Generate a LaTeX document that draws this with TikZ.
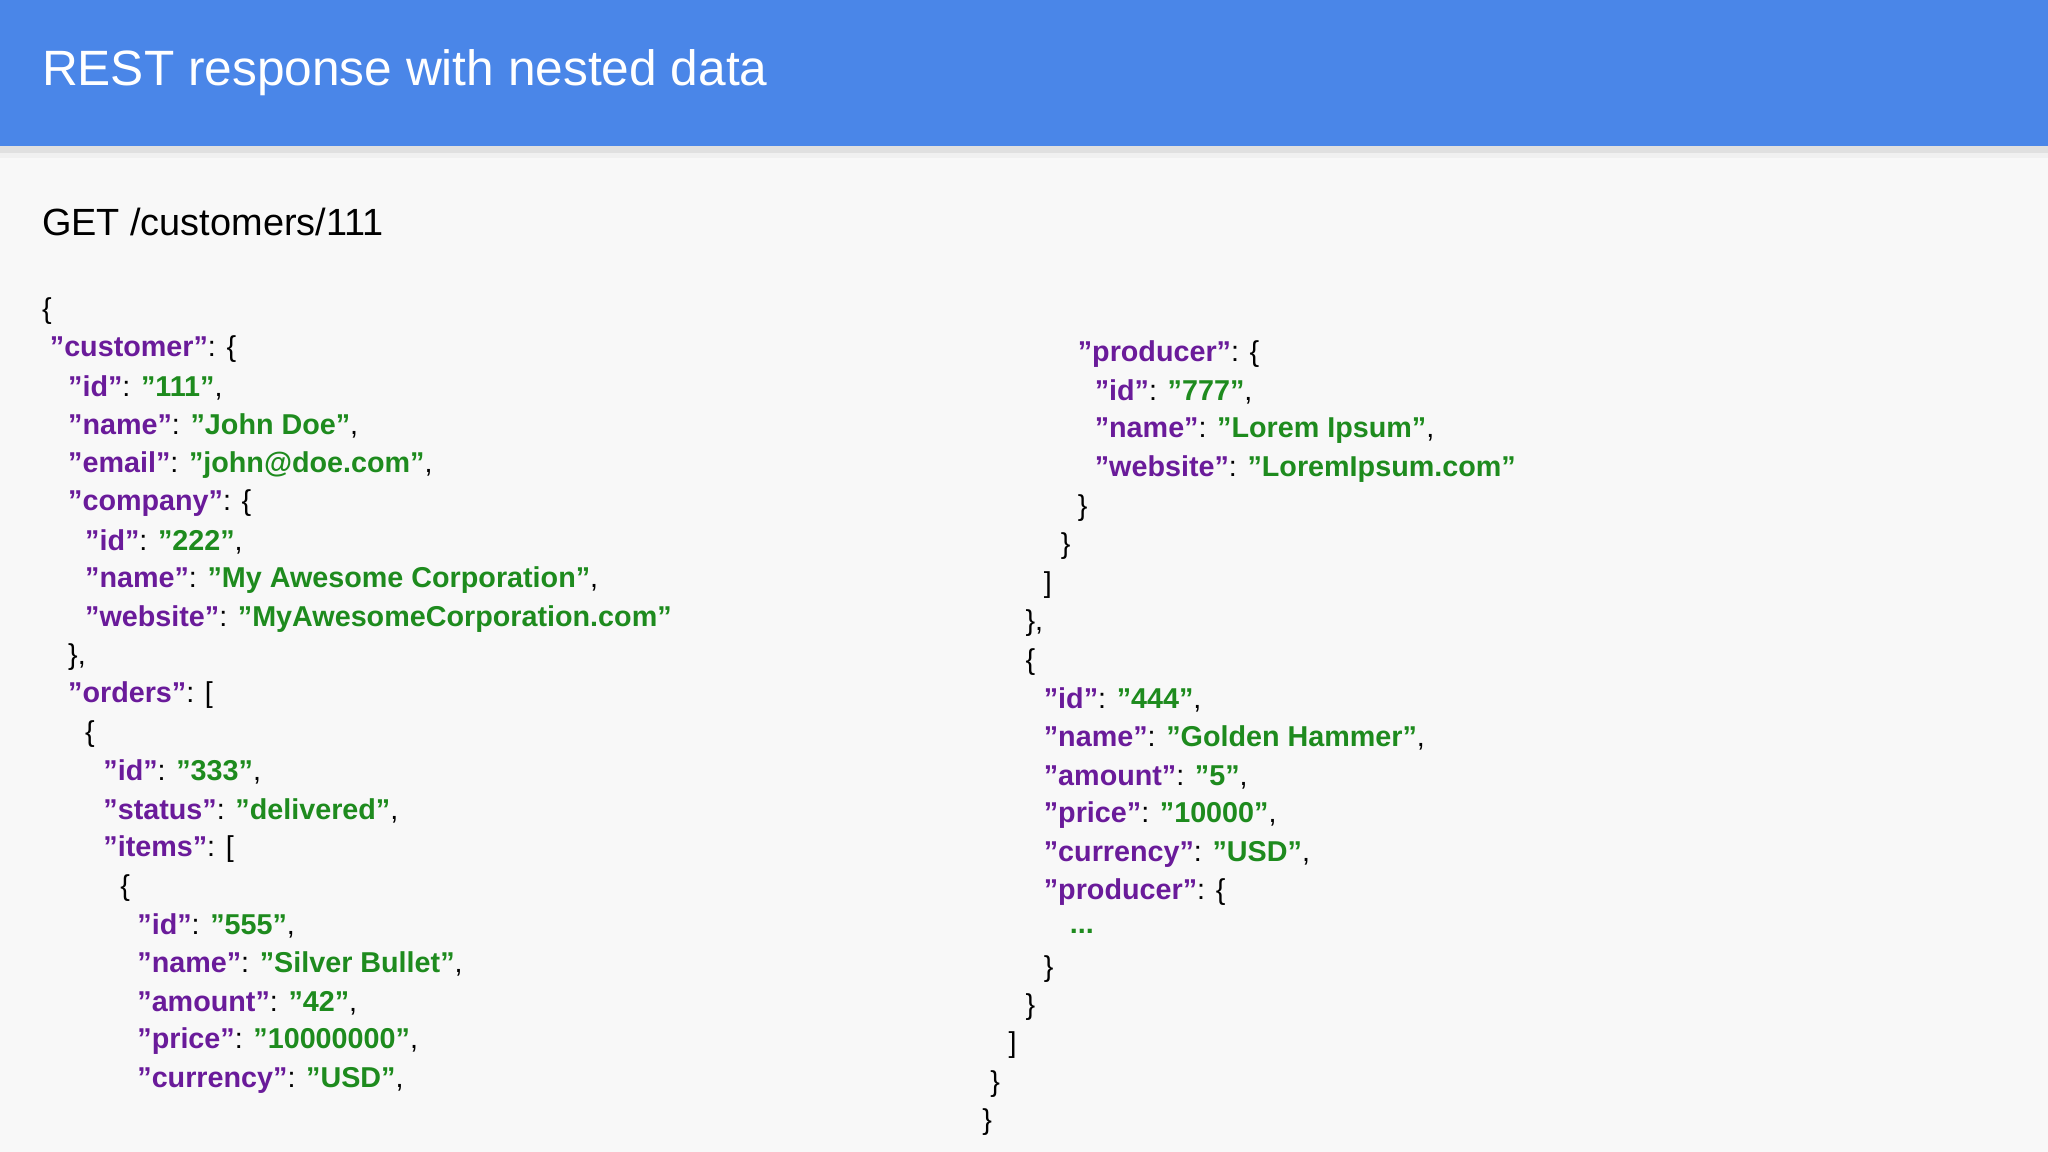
\documentclass[tikz,border=0pt]{standalone}
\usepackage{fontspec}
\setmainfont{Liberation Sans}
\definecolor{hdr}{HTML}{4A86E8}
\definecolor{bg}{HTML}{F8F8F8}
\definecolor{kcol}{HTML}{6A1B9A}
\definecolor{vcol}{HTML}{1E8B1E}
\newcommand{\jk}[1]{\textbf{\color{kcol}"#1"}}
\newcommand{\jv}[1]{\textbf{\color{vcol}"#1"}}
\tikzset{ln/.style={anchor=west,inner sep=0pt,font=\fontsize{22}{26}\selectfont}}
\begin{document}
\begin{tikzpicture}[x=1pt,y=-1pt]
\useasboundingbox (0,0) rectangle (1568,882);
\fill[bg] (0,0) rectangle (1568,882);
\fill[black!12] (0,112) rectangle (1568,117);
\fill[black!6] (0,117) rectangle (1568,121);
\fill[hdr] (0,0) rectangle (1568,112);
\node[anchor=west,inner sep=0pt,text=white,font=\fontsize{38}{44}\selectfont] (title) at (32,56) {REST response with nested data};
\node[anchor=west,inner sep=0pt,font=\fontsize{29}{34}\selectfont] (get) at (32,170) {GET /customers/111};
% left column
\node[ln] (a1) at (32,238) {\{};
\node[ln] (a2) at (38,267) {\jk{customer}: \{};
\node[ln] (a3) at (52,297) {\jk{id}: \jv{111},};
\node[ln] (a4) at (52,326) {\jk{name}: \jv{John Doe},};
\node[ln] (a5) at (52,356) {\jk{email}: \jv{john@doe.com},};
\node[ln] (a6) at (52,385) {\jk{company}: \{};
\node[ln] (a7) at (65,415) {\jk{id}: \jv{222},};
\node[ln] (a8) at (65,444) {\jk{name}: \jv{My Awesome Corporation},};
\node[ln] (a9) at (65,474) {\jk{website}: \jv{MyAwesomeCorporation.com}};
\node[ln] (a10) at (52,503) {\},};
\node[ln] (a11) at (52,532) {\jk{orders}: [};
\node[ln] (a12) at (65,562) {\{};
\node[ln] (a13) at (79,591) {\jk{id}: \jv{333},};
\node[ln] (a14) at (79,621) {\jk{status}: \jv{delivered},};
\node[ln] (a15) at (79,650) {\jk{items}: [};
\node[ln] (a16) at (92,680) {\{};
\node[ln] (a17) at (105,709) {\jk{id}: \jv{555},};
\node[ln] (a18) at (105,738) {\jk{name}: \jv{Silver Bullet},};
\node[ln] (a19) at (105,768) {\jk{amount}: \jv{42},};
\node[ln] (a20) at (105,797) {\jk{price}: \jv{10000000},};
\node[ln] (a21) at (105,827) {\jk{currency}: \jv{USD},};
% right column
\node[ln] (b1) at (825,271) {\jk{producer}: \{};
\node[ln] (b2) at (838,300) {\jk{id}: \jv{777},};
\node[ln] (b3) at (838,330) {\jk{name}: \jv{Lorem Ipsum},};
\node[ln] (b4) at (838,359) {\jk{website}: \jv{LoremIpsum.com}};
\node[ln] (b5) at (825,389) {\}};
\node[ln] (b6) at (812,418) {\}};
\node[ln] (b7) at (799,448) {]};
\node[ln] (b8) at (785,477) {\},};
\node[ln] (b9) at (785,507) {\{};
\node[ln] (b10) at (799,536) {\jk{id}: \jv{444},};
\node[ln] (b11) at (799,565) {\jk{name}: \jv{Golden Hammer},};
\node[ln] (b12) at (799,595) {\jk{amount}: \jv{5},};
\node[ln] (b13) at (799,624) {\jk{price}: \jv{10000},};
\node[ln] (b14) at (799,654) {\jk{currency}: \jv{USD},};
\node[ln] (b15) at (799,683) {\jk{producer}: \{};
\node[ln] (b16) at (819,713) {\textbf{\color{vcol}...}};
\node[ln] (b17) at (799,742) {\}};
\node[ln] (b18) at (785,771) {\}};
\node[ln] (b19) at (772,800) {]};
\node[ln] (b20) at (758,830) {\}};
\node[ln] (b21) at (752,859) {\}};
\end{tikzpicture}
\end{document}
